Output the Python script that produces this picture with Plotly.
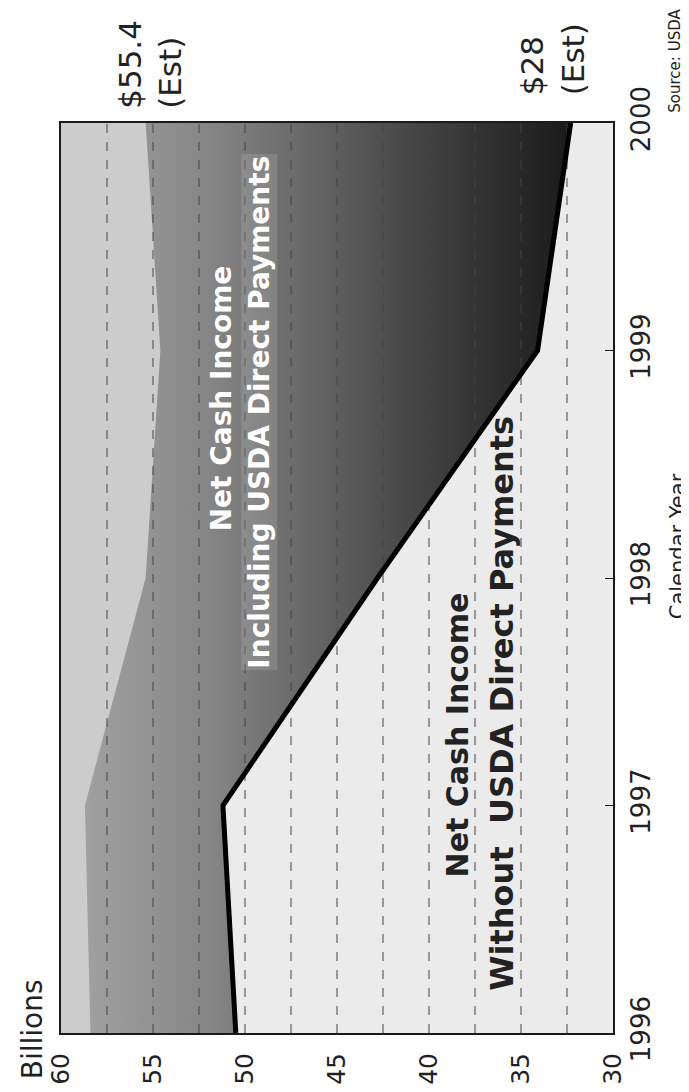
import plotly.graph_objects as go

# ---- data ----
years = [1996, 1997, 1998, 1999, 2000]
without_payments = [50.5, 51.2, 42.8, 34.1, 32.3]     # Net cash income without USDA direct payments
including_payments = [58.4, 58.7, 55.4, 54.6, 55.4]   # Net cash income including USDA direct payments
value_ticks = [60, 55, 50, 45, 40, 35, 30]
year_labels = ["1996", "1997", "1998", "1999", "2000"]
grid_step = 2.5

FONT = "DejaVu Sans"
INK = "#222222"

fig = go.Figure()

# band between the "including" line and the low end: gradient grey
fig.add_trace(go.Scatter(
    x=including_payments, y=years, mode="lines",
    line=dict(width=0, color="rgba(0,0,0,0)"),
    fill="tozerox",
    fillgradient=dict(type="horizontal", start=31, stop=59,
                      colorscale=[[0, "#141414"], [0.35, "#454545"],
                                  [0.75, "#868686"], [1, "#a2a2a2"]]),
    hoverinfo="skip", showlegend=False))

# area below the "without" line: very light grey
fig.add_trace(go.Scatter(
    x=without_payments, y=years, mode="lines",
    line=dict(width=0, color="rgba(0,0,0,0)"),
    fill="tozerox", fillcolor="#ebebeb",
    hoverinfo="skip", showlegend=False))

# dashed grid lines (every 2.5 billion) drawn over the fills
gx, gy = [], []
v = min(value_ticks) + grid_step
while v < max(value_ticks):
    gx += [v, v, None]
    gy += [years[0], years[-1], None]
    v += grid_step
fig.add_trace(go.Scatter(
    x=gx, y=gy, mode="lines",
    line=dict(color="#444444", width=1, dash="9px,9px"),
    hoverinfo="skip", showlegend=False))

# black "without payments" line
fig.add_trace(go.Scatter(
    x=without_payments, y=years, mode="lines",
    line=dict(color="black", width=5),
    hoverinfo="skip", showlegend=False))

annotations = [
    dict(text="Net Cash Income", x=51.3, y=1998.79, xref="x", yref="y",
         textangle=-90, showarrow=False,
         font=dict(family=FONT, size=28, color="white", weight="bold")),
    dict(text="Including USDA Direct Payments", x=49.2, y=1998.73, xref="x", yref="y",
         textangle=-90, showarrow=False, bgcolor="rgba(215,215,215,0.18)",
         font=dict(family=FONT, size=28, color="white", weight="bold")),
    dict(text="Net Cash Income", x=38.4, y=1997.31, xref="x", yref="y",
         textangle=-90, showarrow=False,
         font=dict(family=FONT, size=30, color=INK, weight="bold")),
    dict(text="Without\u00a0 USDA Direct Payments", x=36.0, y=1997.45, xref="x", yref="y",
         textangle=-90, showarrow=False,
         font=dict(family=FONT, size=32, color=INK, weight="bold")),
    dict(text="$55.4<br>(Est)", x=including_payments[-1] - 0.2, y=1, xref="x", yref="paper",
         xanchor="center", yanchor="bottom", yshift=12, align="left",
         textangle=-90, showarrow=False,
         font=dict(family=FONT, size=31, color=INK)),
    dict(text="$28<br>(Est)", x=without_payments[-1] + 1.0, y=1, xref="x", yref="paper",
         xanchor="center", yanchor="bottom", yshift=26, align="left",
         textangle=-90, showarrow=False,
         font=dict(family=FONT, size=31, color=INK)),
    dict(text="Billions", x=-0.051, y=0.004, xref="paper", yref="paper",
         xanchor="center", yanchor="middle",
         textangle=-90, showarrow=False,
         font=dict(family=FONT, size=28, color=INK)),
    dict(text="Calendar Year", x=1.118, y=0.535, xref="paper", yref="paper",
         xanchor="center", yanchor="middle",
         textangle=-90, showarrow=False,
         font=dict(family=FONT, size=21, color=INK)),
    dict(text="Source: USDA", x=1.132, y=1.009, xref="paper", yref="paper",
         xanchor="right", yanchor="bottom",
         textangle=-90, showarrow=False,
         font=dict(family=FONT, size=15, color=INK)),
]

fig.update_layout(
    width=689, height=1092,
    margin=dict(l=53, r=84, t=115, b=67),
    paper_bgcolor="white",
    plot_bgcolor="#cccccc",
    showlegend=False,
    annotations=annotations,
    xaxis=dict(
        range=[60, 30], tickvals=value_ticks, ticktext=[str(t) for t in value_ticks],
        tickangle=-90, tickfont=dict(family=FONT, size=25, color=INK),
        showgrid=False, zeroline=False, ticks="", ticklabelstandoff=8,
        automargin=False,
        showline=True, mirror=True, linecolor="#1a1a1a", linewidth=2,
    ),
    yaxis=dict(
        range=[years[0], years[-1]], tickvals=years, ticktext=year_labels, side="right",
        tickangle=-90, tickfont=dict(family=FONT, size=26, color=INK),
        showgrid=False, zeroline=False, ticks="inside", ticklen=8, tickcolor="#1a1a1a",
        ticklabelstandoff=4, automargin=False,
        showline=True, mirror=True, linecolor="#1a1a1a", linewidth=2,
    ),
)

fig.write_html("out.html")
